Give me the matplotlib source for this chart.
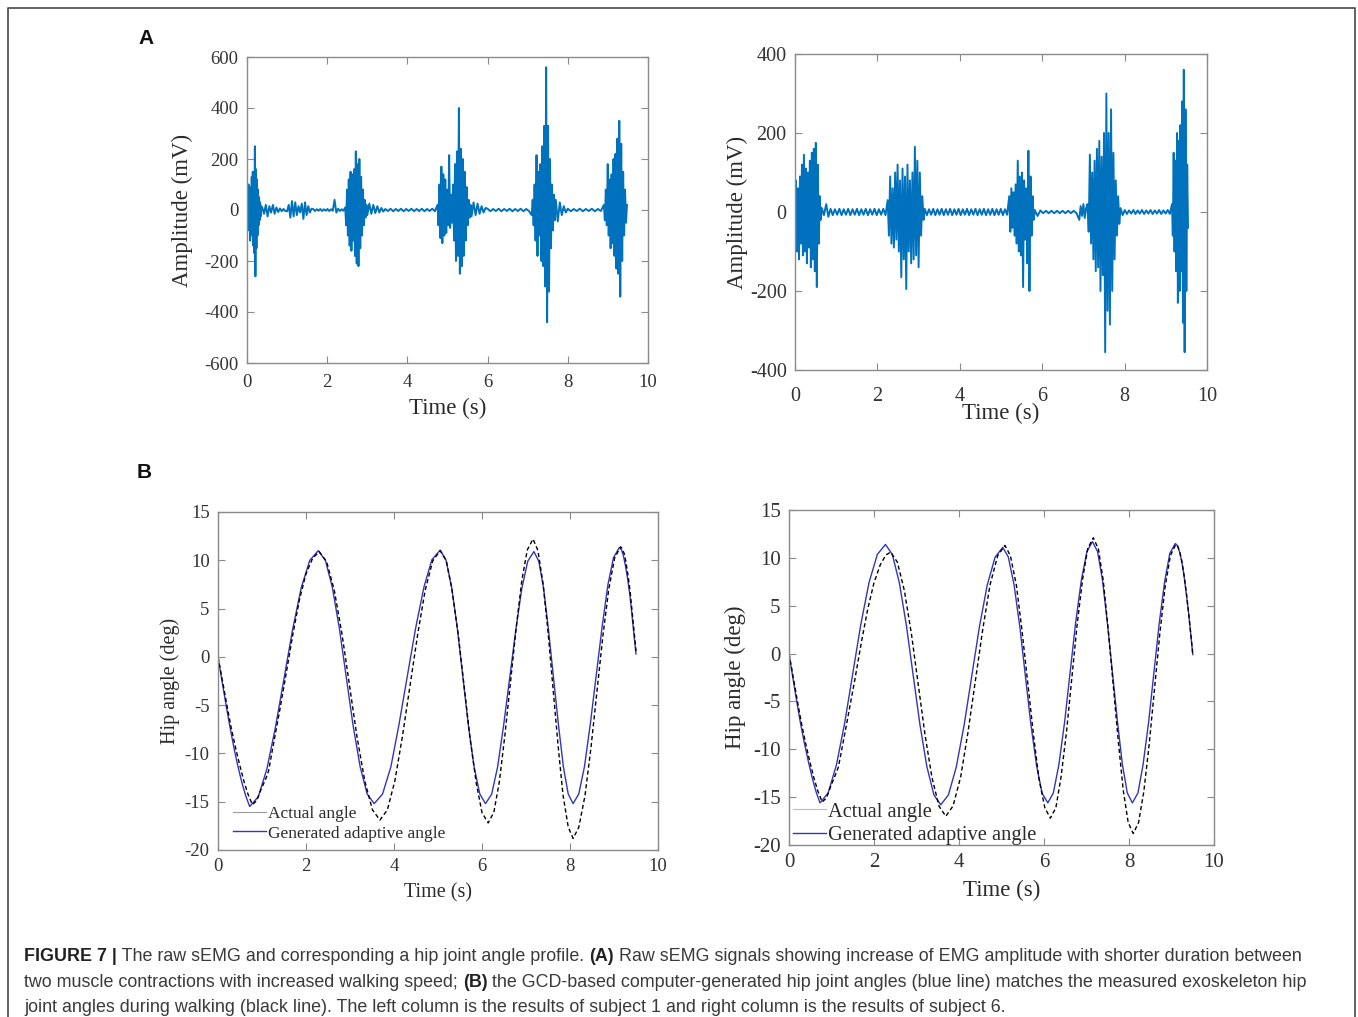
import matplotlib
matplotlib.use('Agg')
import matplotlib.pyplot as plt
from matplotlib.lines import Line2D
import numpy as np

plt.rcParams['font.family'] = ['Liberation Serif', 'DejaVu Serif']
plt.rcParams['axes.unicode_minus'] = False

# ---------------- panel A : raw sEMG ----------------
# segment edges (s) and the samples (mV) read inside each segment
emg1_edges = [0.0, 0.38, 1.0, 1.65, 2.45, 3.0, 3.45, 4.75, 5.6, 6.0, 7.1, 7.7, 8.0, 8.9, 9.5]
emg1_parts = [
    [0, 60, -80, 100, -60, 90, -120, 70, -100, 130, -90, 150, -140, 110, -170, 250, -260, 160, -150, 120, -100, 80, -60, 50, -40, 30, -25, 15, 0],
    [10, -15, 20, -25, 15, -10, 20, -15, 10, -8, 6, -5, 4, -4],
    [-5, 20, -30, 35, -25, 30, -20, 15, -10, 25, -35, 30, -20, 15, -10, 5],
    [4, -4, 3, -3, 4, -4, 3, -3, 4, -4, 3, -3, 40, -10, 5, -4, 3, -3],
    [10, -60, 80, -100, 120, -140, 150, -160, 140, -120, 160, -180, 230, -210, 180, -220, 200, -150, 130, -100, 80, -60, 40, -30, 20],
    [-20, 25, -15, 20, -12, 15, -10, 8, -6],
    [4, -4, 5, -5, 4, -4, 5, -5, 4, -4, 5, -5, 4, -4, 5, -5, 4, -4, 5, -5],
    [20, -60, 100, -110, 170, -130, 140, -100, 120, -90, 80, -60, 215, -70, 60, -50, 100, -120, 180, -200, 230, -180, 400, -250, 240, -220, 200, -180, 150, -120, 90, -60, 40, -30, 20],
    [-25, 30, -20, 25, -15, 15, -10, 8],
    [5, -5, 4, -4, 5, -5, 4, -4, 5, -5, 4, -4, 5, -5, 4, -4],
    [-20, 40, -60, 100, -120, 215, -180, 150, -100, 180, -200, 250, -220, 330, -300, 560, -440, 330, -320, 200, -150, 100, -80, 60, -40],
    [40, -45, 30, -20, 15, -10],
    [5, -5, 4, -4, 5, -5, 4, -4, 5, -5, 4, -4],
    [20, -40, 80, -60, 180, -100, 120, -150, 140, -130, 200, -180, 220, -230, 280, -250, 350, -340, 260, -200, 150, -100, 80, -50, 20],
]

emg6_edges = [0.0, 0.65, 2.25, 3.15, 5.2, 5.82, 6.9, 7.1, 7.9, 9.15, 9.56]
emg6_parts = [
    [0, 80, -100, 60, -120, 90, -80, 120, -110, 145, -100, 110, -130, 100, -90, 130, -140, 150, -120, 160, -150, 175, -190, 120, -80, 40, -20],
    [10, -8, 20, -12, 8, -8, 7, -7, 8, -8, 7, -7, 8, -8, 7, -7, 8, -8, 7, -7, 8, -8, 7, -7, 8, -8, 7, -7, 8, -8],
    [30, -60, 90, -80, 60, -90, 100, -70, 120, -100, 80, -165, 110, -120, 90, -195, 120, -100, 80, -130, 100, -120, 165, -110, 130, -140, 100, -60, 40, -20],
    [8, -8, 7, -7, 8, -8, 7, -7, 8, -8, 7, -7, 8, -8, 7, -7, 8, -8, 7, -7, 8, -8, 7, -7, 8, -8, 7, -7, 8, -8, 7, -7, 8, -8, 7, -7, 8, -8, 7, -7],
    [40, -50, 60, -40, 50, -60, 70, -80, 130, -100, 90, -110, 100, -190, 80, -70, 60, -130, 155, -200, 90, -60, 40, -20],
    [5, -10, 4, -3, 3, -3, 3, -3, 3, -3, 3, -3, 3, -3, 3, -3],
    [-20, 15, -10, 20, -15, 10],
    [20, -50, 145, -80, 100, -120, 130, -150, 160, -140, 180, -200, 140, -160, 200, -355, 300, -250, 200, -285, 260, -200, 150, -120, 80, -60, 40, -30],
    [10, -8, 5, -5, 4, -4, 5, -5, 4, -4, 5, -5, 4, -4, 5, -5, 4, -4, 5, -5, 4, -4, 5, -5],
    [20, -60, 150, -100, 130, -150, 200, -230, 180, -200, 220, -150, 280, -280, 360, -355, 260, -200, 120, -40],
]

# ---------------- panel B : hip angle (deg) ----------------
s1_gen_t = [0, .09, .18, .27, .36, .45, .54, .63, .72,
            .915, 1.11, 1.305, 1.5, 1.695, 1.89, 2.085, 2.28,
            2.44, 2.6, 2.76, 2.915, 3.07, 3.23, 3.39, 3.55,
            3.74, 3.93, 4.11, 4.3, 4.49, 4.68, 4.86, 5.05,
            5.18, 5.31, 5.44, 5.565, 5.69, 5.82, 5.95, 6.08,
            6.22, 6.355, 6.49, 6.63, 6.77, 6.905, 7.04, 7.18,
            7.29, 7.4, 7.51, 7.625, 7.74, 7.85, 7.96, 8.07,
            8.2, 8.33, 8.46, 8.595, 8.73, 8.86, 8.99, 9.12,
            9.17, 9.215, 9.26, 9.31, 9.36, 9.405, 9.45, 9.5]
s1_gen_v = [0, -2.48, -4.90, -7.22, -9.36, -11.28, -12.97, -14.38, -15.5,
            -14.49, -11.63, -7.31, -2.25, 2.81, 7.13, 9.99, 11.0,
            10.0, 7.17, 2.9, -2.1, -7.1, -11.37, -14.2, -15.2,
            -14.2, -11.37, -7.09, -2.07, 2.94, 7.22, 10.05, 11.05,
            10.05, 7.22, 2.94, -2.07, -7.09, -11.37, -14.2, -15.2,
            -14.21, -11.39, -7.14, -2.15, 2.84, 7.09, 9.91, 10.9,
            9.91, 7.09, 2.84, -2.15, -7.14, -11.39, -14.21, -15.2,
            -14.19, -11.33, -7.01, -1.95, 3.11, 7.43, 10.29, 11.3,
            11.09, 10.46, 9.44, 8.08, 6.42, 4.51, 2.44, 0.3]
s1_act_t = [0, .1, .195, .29, .39, .49, .585, .68, .78,
            .88, .98, 1.08, 1.15, 1.25, 1.4, 1.55, 1.7, 1.85, 2.0, 2.15, 2.3,
            2.47, 2.645, 2.82, 2.99, 3.16, 3.335, 3.51, 3.68,
            3.85, 4.02, 4.19, 4.365, 4.54, 4.71, 4.88, 5.05,
            5.19, 5.32, 5.46, 5.595, 5.73, 5.87, 6.0, 6.14,
            6.27, 6.395, 6.52, 6.65, 6.78, 6.905, 7.03, 7.16,
            7.27, 7.385, 7.5, 7.615, 7.73, 7.84, 7.96, 8.07,
            8.2, 8.34, 8.475, 8.61, 8.745, 8.88, 9.015, 9.15,
            9.19, 9.24, 9.28, 9.325, 9.37, 9.41, 9.455, 9.5]
s1_act_v = [0, -2.45, -4.83, -7.13, -9.24, -11.14, -12.81, -14.2, -15.3,
            -14.9, -13.7, -12.7, -11.8, -9.3, -5.6, -1.7, 2.3, 5.9, 8.6, 10.2, 10.9,
            9.84, 6.84, 2.31, -3.0, -8.31, -12.84, -15.84, -16.9,
            -15.84, -12.83, -8.28, -2.95, 2.38, 6.93, 9.94, 11.0,
            9.93, 6.88, 2.29, -3.1, -8.49, -13.08, -16.13, -17.2,
            -16.08, -12.91, -8.12, -2.5, 3.12, 7.91, 11.08, 12.2,
            11.02, 7.67, 2.62, -3.3, -9.22, -14.27, -17.62, -18.8,
            -17.65, -14.39, -9.47, -3.7, 2.07, 6.99, 10.25, 11.4,
            11.19, 10.58, 9.57, 8.24, 6.6, 4.74, 2.71, 0.6]

s6_gen_t = [0, .09, .18, .27, .365, .46, .55, .64, .73,
            .92, 1.115, 1.31, 1.5, 1.69, 1.885, 2.08, 2.27,
            2.43, 2.595, 2.76, 2.92, 3.08, 3.245, 3.41, 3.57,
            3.75, 3.935, 4.12, 4.3, 4.48, 4.665, 4.85, 5.03,
            5.16, 5.295, 5.43, 5.56, 5.69, 5.825, 5.955, 6.09,
            6.22, 6.35, 6.485, 6.615, 6.745, 6.88, 7.01, 7.14,
            7.26, 7.375, 7.49, 7.61, 7.73, 7.845, 7.96, 8.08,
            8.21, 8.33, 8.46, 8.585, 8.71, 8.84, 8.96, 9.09,
            9.14, 9.19, 9.245, 9.295, 9.345, 9.4, 9.45, 9.5]
s6_gen_v = [0, -2.5, -4.93, -7.27, -9.42, -11.36, -13.06, -14.48, -15.6,
            -14.57, -11.66, -7.26, -2.1, 3.06, 7.46, 10.37, 11.4,
            10.37, 7.43, 3.0, -2.2, -7.4, -11.83, -14.77, -15.8,
            -14.78, -11.87, -7.49, -2.35, 2.79, 7.17, 10.08, 11.1,
            10.09, 7.2, 2.85, -2.25, -7.35, -11.7, -14.59, -15.6,
            -14.56, -11.61, -7.16, -1.95, 3.26, 7.71, 10.66, 11.7,
            10.66, 7.71, 3.26, -1.95, -7.16, -11.61, -14.56, -15.6,
            -14.57, -11.64, -7.23, -2.05, 3.13, 7.54, 10.47, 11.5,
            11.28, 10.62, 9.54, 8.1, 6.35, 4.34, 2.16, -0.1]
s6_act_t = [0, .1, .195, .29, .39, .49, .585, .68, .78,
            .88, .98, 1.08, 1.16, 1.26, 1.4, 1.55, 1.7, 1.85, 2.0, 2.15, 2.28, 2.39,
            2.55, 2.715, 2.88, 3.04, 3.2, 3.365, 3.53, 3.69,
            3.86, 4.04, 4.21, 4.385, 4.56, 4.73, 4.91, 5.08,
            5.21, 5.35, 5.48, 5.615, 5.75, 5.88, 6.02, 6.15,
            6.28, 6.4, 6.53, 6.655, 6.78, 6.91, 7.03, 7.16,
            7.28, 7.395, 7.51, 7.63, 7.75, 7.865, 7.98, 8.1,
            8.225, 8.35, 8.475, 8.6, 8.725, 8.85, 8.975, 9.1,
            9.15, 9.2, 9.25, 9.3, 9.35, 9.4, 9.45, 9.5]
s6_act_v = [0, -2.48, -4.9, -7.22, -9.36, -11.28, -12.97, -14.38, -15.5,
            -15.1, -13.9, -12.8, -11.9, -9.6, -6.3, -2.7, 1.1, 4.6, 7.4, 9.3, 10.3, 10.6,
            9.55, 6.57, 2.07, -3.2, -8.47, -12.97, -15.95, -17.0,
            -15.92, -12.87, -8.26, -2.85, 2.56, 7.17, 10.22, 11.3,
            10.22, 7.14, 2.49, -2.95, -8.39, -13.04, -16.12, -17.2,
            -16.09, -12.92, -8.15, -2.55, 3.05, 7.82, 10.99, 12.1,
            10.93, 7.59, 2.55, -3.35, -9.25, -14.29, -17.63, -18.8,
            -17.65, -14.39, -9.47, -3.7, 2.07, 6.99, 10.25, 11.4,
            11.18, 10.53, 9.47, 8.06, 6.34, 4.37, 2.22, 0.0]

legend_labels = ['Actual angle', 'Generated adaptive angle']

caption_lines = [
    [('FIGURE 7 |', True), (' The raw sEMG and corresponding a hip joint angle profile. ', False),
     ('(A)', True), (' Raw sEMG signals showing increase of EMG amplitude with shorter duration between', False)],
    [('two muscle contractions with increased walking speed; ', False), ('(B)', True),
     (' the GCD-based computer-generated hip joint angles (blue line) matches the measured exoskeleton hip', False)],
    [('joint angles during walking (black line). The left column is the results of subject 1 and right column is the results of subject 6.', False)],
]

W, H = 1358, 1017
EMG_COLOR = '#0072BD'
GEN_COLOR = '#3535b8'
SPINE = '#8a8a8a'
TXT = '#2b2b2b'


def px_axes(fig, x0, y0, x1, y1):
    # pixel box (top-left origin) -> figure axes
    return fig.add_axes([x0 / W, 1 - y1 / H, (x1 - x0) / W, (y1 - y0) / H])


def build_signal(edges, parts):
    t, v = [], []
    for a, b, vals in zip(edges[:-1], edges[1:], parts):
        t.append(np.linspace(a, b, len(vals), endpoint=False))
        v.append(np.asarray(vals, dtype=float))
    return np.concatenate(t), np.concatenate(v)


def style(ax, tick_size, label_size, xlab, ylab, xoff, yoff, xpad):
    for s in ax.spines.values():
        s.set_color(SPINE)
        s.set_linewidth(1.0)
    ax.tick_params(direction='in', top=True, right=True, length=5, width=0.8,
                   color=SPINE, labelsize=tick_size, labelcolor='#333333', pad=6)
    ax.tick_params(axis='x', pad=xpad)
    ax.set_xlim(0, 10)
    ax.set_xticks(np.arange(0, 11, 2))
    ax.set_xlabel(xlab, fontsize=label_size, color=TXT, va='center')
    ax.set_ylabel(ylab, fontsize=label_size, color=TXT, va='center')
    ax.xaxis.set_label_coords(0.5, xoff)
    ax.yaxis.set_label_coords(yoff, 0.5)


def emg_panel(fig, box, edges, parts, ylim, tick_size, label_size, xoff, yoff, xpad):
    ax = px_axes(fig, *box)
    t, v = build_signal(edges, parts)
    ax.plot(t, v, color=EMG_COLOR, lw=1.4)
    ax.set_ylim(-ylim, ylim)
    ax.set_yticks(np.arange(-ylim, ylim + 1, 200))
    style(ax, tick_size, label_size, 'Time (s)', 'Amplitude (mV)', xoff, yoff, xpad)
    return ax


def angle_panel(fig, box, gt, gv, at, av, tick_size, label_size, xoff, yoff,
                leg_size, leg_anchor, leg_hl, act_leg_color):
    ax = px_axes(fig, *box)
    ax.plot(gt, gv, color=GEN_COLOR, lw=1.0)
    ax.plot(at, av, color='k', lw=1.0, ls=(0, (3, 2)))
    ax.set_ylim(-20, 15)
    ax.set_yticks(np.arange(-20, 16, 5))
    style(ax, tick_size, label_size, 'Time (s)', 'Hip angle (deg)', xoff, yoff, 6)
    handles = [Line2D([], [], color=act_leg_color, lw=0.8),
               Line2D([], [], color=GEN_COLOR, lw=1.0)]
    ax.legend(handles, legend_labels, loc='lower left', bbox_to_anchor=leg_anchor,
              frameon=False, fontsize=leg_size, handlelength=leg_hl, handletextpad=0.1,
              labelspacing=0.2, borderpad=0, borderaxespad=0, labelcolor=TXT)
    return ax


def draw_caption(fig, size):
    renderer = fig.canvas.get_renderer()
    baselines = [961, 987, 1012]
    for yb, pieces in zip(baselines, caption_lines):
        x = 24 / W
        for text, bold in pieces:
            t = fig.text(x, 1 - yb / H, text, fontsize=size, family='Liberation Sans',
                         fontweight='bold' if bold else 'normal',
                         color='#222222' if bold else '#3a3a3a', va='baseline', ha='left')
            x += t.get_window_extent(renderer).width / W


def main():
    fig = plt.figure(figsize=(W / 100, H / 100), dpi=100)

    # outer frame (open at the bottom)
    fig.add_artist(Line2D([8 / W, 8 / W, 1355 / W, 1355 / W], [0, 1 - 8 / H, 1 - 8 / H, 0],
                          transform=fig.transFigure, color='#555555', lw=1.3))

    emg_panel(fig, (247, 57, 648, 363), emg1_edges, emg1_parts, 600, 13.5, 16.5, -0.147, -0.160, 8)
    emg_panel(fig, (795, 54, 1207, 370), emg6_edges, emg6_parts, 400, 14.5, 16.5, -0.136, -0.141, 12)

    angle_panel(fig, (218, 512, 658, 850), s1_gen_t, s1_gen_v, s1_act_t, s1_act_v,
                13.5, 14.5, -0.127, -0.109, 12.5, (0.034, 0.025), 1.9, '#9a9a9a')
    angle_panel(fig, (789, 510, 1214, 845), s6_gen_t, s6_gen_v, s6_act_t, s6_act_v,
                15, 16.5, -0.137, -0.127, 14.8, (0.01, 0.0), 1.6, '#bbbbbb')

    for letter, x, y in [('A', 146, 38), ('B', 144, 473)]:
        fig.text(x / W, 1 - y / H, letter, ha='center', va='center', fontsize=15,
                 family='Liberation Sans', fontweight='bold', color='#111111')

    draw_caption(fig, 12.9)

    fig.savefig('out.png', dpi=100)
    plt.close(fig)


main()
